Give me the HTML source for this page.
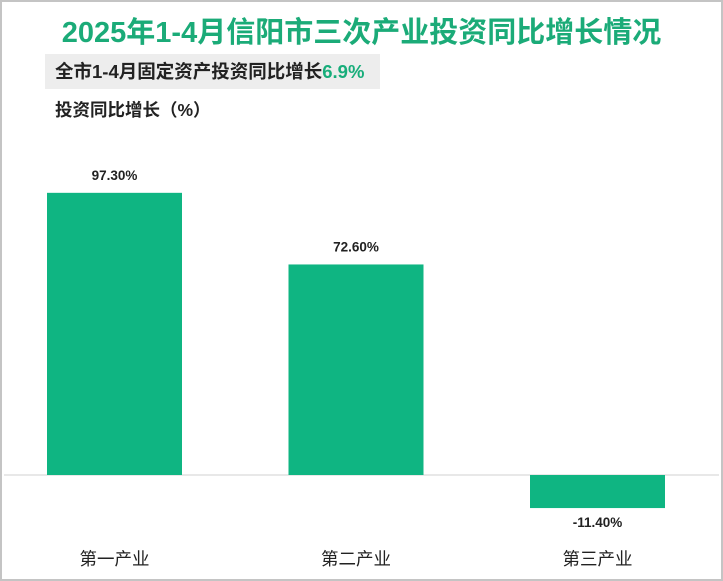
<!DOCTYPE html>
<html><head><meta charset="utf-8">
<style>
html,body{margin:0;padding:0;background:#fff;}
#wrap{position:relative;width:723px;height:581px;box-sizing:border-box;border:2px solid #c4c4c4;overflow:hidden;font-family:"Liberation Sans","Noto Sans CJK SC",sans-serif;}
#title{position:absolute;left:-2px;width:723px;top:13px;text-align:center;font-size:29px;font-weight:bold;color:#1bab78;line-height:36px;}
#sub{position:absolute;left:43px;top:52px;width:335px;height:35px;background:#ededed;font-size:18.5px;font-weight:bold;line-height:35px;padding-left:10px;box-sizing:border-box;color:#222;white-space:nowrap;}
#sub span{color:#17ad7a;}
#ylab{position:absolute;left:53px;top:95px;font-size:17.5px;font-weight:bold;color:#222;}
svg{position:absolute;left:-2px;top:-2px;}
</style></head><body>
<div id="wrap">
<div id="title">2025年1-4月信阳市三次产业投资同比增长情况</div>
<div id="sub">全市1-4月固定资产投资同比增长<span>6.9%</span></div>
<div id="ylab">投资同比增长（%）</div>
<svg id="chart" width="723" height="581"></svg>
</div>
<script>
const categories=["第一产业","第二产业","第三产业"];
const values=[97.3,72.6,-11.4];
const labels=["97.30%","72.60%","-11.40%"];
const svg=document.getElementById('chart');
const NS="http://www.w3.org/2000/svg";
const zeroY=475, pxPer=2.9, firstX=47, step=241.5, barW=135;
function y(v){return zeroY - v*pxPer;}
function x(i){return firstX + i*step;}
const axis=document.createElementNS(NS,'line');
axis.setAttribute('x1',4);axis.setAttribute('x2',719);axis.setAttribute('y1',zeroY);axis.setAttribute('y2',zeroY);
axis.setAttribute('stroke','#d0d0d0');axis.setAttribute('stroke-width','1');


svg.appendChild(axis);
values.forEach((v,i)=>{
  const r=document.createElementNS(NS,'rect');
  const top=Math.min(y(v),zeroY), h=Math.abs(y(v)-zeroY);
  r.setAttribute('x',x(i));r.setAttribute('y',top);r.setAttribute('width',barW);r.setAttribute('height',h);
  r.setAttribute('fill','#0fb582');
  
  
  svg.appendChild(r);
  const t=document.createElementNS(NS,'text');
  t.setAttribute('x',x(i)+barW/2);
  t.setAttribute('y',v>=0?y(v)-13:y(v)+19);
  t.setAttribute('text-anchor','middle');t.setAttribute('font-size','13.5');t.setAttribute('font-weight','bold');
  t.setAttribute('font-family','"Liberation Sans",sans-serif');t.setAttribute('fill','#222');
  t.textContent=labels[i];
  
  
  svg.appendChild(t);
  const c=document.createElementNS(NS,'text');
  c.setAttribute('x',x(i)+barW/2);c.setAttribute('y',565);
  c.setAttribute('text-anchor','middle');c.setAttribute('font-size','17.5');
  c.setAttribute('font-family','"Liberation Sans","Noto Sans CJK SC",sans-serif');c.setAttribute('fill','#222');
  c.textContent=categories[i];
  
  
  svg.appendChild(c);
});
</script>
</body></html>
